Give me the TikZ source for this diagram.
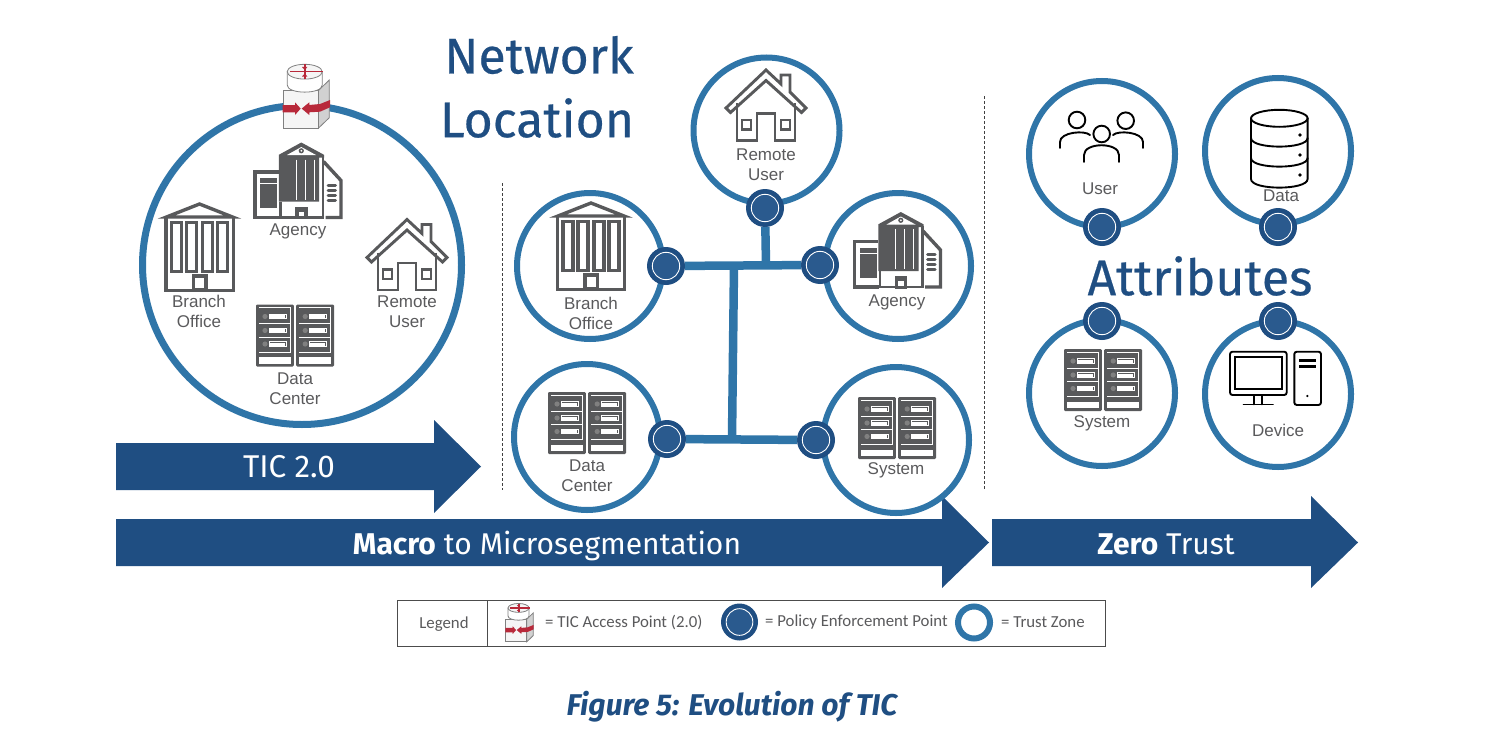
\documentclass[tikz,border=0pt]{standalone}
\usepackage{fontspec}
\setmainfont{Liberation Sans}
\newfontfamily\hdfont[FakeBold=0.45]{Fira Sans}
\newfontfamily\bandfont{Fira Sans}
\newfontfamily\lgfont{Carlito}
\definecolor{ringblue}{HTML}{2F75A8}
\definecolor{navy}{HTML}{1F4E82}
\definecolor{pepfill}{HTML}{2A5A8E}
\definecolor{icongray}{HTML}{58595B}
\definecolor{labelgray}{HTML}{5A5A5C}
\definecolor{ticred}{HTML}{B8293A}
\tikzset{
  zone/.style={circle,draw=ringblue,fill=white,line width=6pt,inner sep=0pt,outer sep=0pt,minimum size=#1},
  pep/.style={circle,fill=navy,inner sep=0pt,outer sep=0pt,minimum size=#1,
    path picture={\draw[white,line width=0.9pt,fill=pepfill] (path picture bounding box.center) circle[radius=0.36*#1];}},
  net/.style={draw=ringblue,line width=8.5pt},
  lbl/.style={font=\fontsize{17}{20}\selectfont,text=labelgray,align=center,inner sep=0pt},
  head/.style={font=\hdfont\fontsize{50}{54}\selectfont,text=navy,inner sep=0pt,align=center},
  bandtext/.style={font=\bandfont\fontsize{30}{32}\selectfont,text=white,inner sep=0pt,anchor=base},
  bigarrow/.style={fill=navy},
  guide/.style={draw=black!75,line width=0.7pt,dash pattern=on 3pt off 2pt},
  leg/.style={font=\lgfont\fontsize{16.8}{20}\selectfont,text=labelgray,inner sep=0pt},
  ig/.style={draw=icongray,line width=3.4pt,line join=miter},
  thinblk/.style={draw=black,line width=1.9pt,line cap=round},
  houseicon/.pic={
    \draw[ig,line width=2.9pt] (-40,3) -- (0,-35) -- (15,-21) -- (15,-30) -- (24,-30) -- (24,-13) -- (40,3) -- (35.5,7.5) -- (0,-24.5) -- (-35.5,7.5) -- cycle;
    \draw[ig,line width=2.9pt] (-29,-2) -- (-29,35.5) -- (-9,35.5) -- (-9,8.5) -- (9,8.5) -- (9,35.5) -- (29,35.5) -- (29,-2);
    \draw[ig,line width=2.9pt] (-24,15) rectangle (-15,24.5);
    \draw[ig,line width=2.9pt] (15,15) rectangle (24,24.5);
  },
  bldgicon/.pic={
    \draw[ig] (0,-43) -- (-33,-30) -- (33,-30) -- cycle;
    \draw[ig] (-33.7,-30) -- (-33.7,43.5) -- (33.7,43.5) -- (33.7,-30);
    \foreach \cx in {-23,-8,8,23}{\draw[ig] (\cx-5,-24.5) rectangle (\cx+5,24.5);}
    \fill[white] (-9,27) rectangle (9,42);
    \draw[ig] (-6,29) rectangle (6.5,43);
  },
  agencyicon/.pic={
    \draw[ig] (-19,37) -- (-43,37) -- (-43,-8.5) -- (-19.3,-8.5);
    \fill[icongray] (-37.7,-2.3) rectangle (-21,27.7);
    \draw[white,line width=1pt] (-37.7,3) -- (-21,3);
    \fill[icongray] (-19.2,-25.7) -- (3.3,-38) -- (26,-25.7) -- (26,-23) -- (21,-23) -- (21,21) -- (-19.2,21) -- cycle;
    \fill[white] (-11,-25.5) -- (3.3,-33.5) -- (18,-25.5) -- cycle;
    \fill[icongray] (3.3,-29.7) circle[radius=2.6];
    \fill[white] (3.3,-29.7) circle[radius=1];
    \draw[ig,line width=2.6pt] (-17.7,21) -- (-17.7,37) -- (25,37) -- (25,-24);
    \draw[white,line width=0.8pt] (-2,-21) -- (-2,19) (7.3,-21) -- (7.3,19) (16.3,-21) -- (16.3,19);
    \fill[icongray] (-3,26) rectangle (9.5,38.5);
    \fill[white] (0.5,31) rectangle (6,35.5);
    \draw[ig] (25.5,-19) -- (43,0) -- (43,37) -- (27.5,37);
    \foreach \yy in {4.5,9.5,14.5,19.5}{\draw[icongray,line width=3pt,line cap=round] (30,\yy) -- (37.5,\yy);}
  },
  rackicon/.pic={
    \foreach \xx in {-39,1.2}{
      \fill[icongray,rounded corners=1.2pt] (\xx,-31) rectangle (\xx+37.8,31);
      \draw[white,line width=0.6pt] (\xx+3,-28) -- (\xx+34.5,-28) -- (\xx+34.5,16.5) -- (\xx+3,16.5);
      \draw[white,line width=0.6pt] (\xx+3,-12.2) -- (\xx+34.5,-12.2) (\xx+3,1.5) -- (\xx+34.5,1.5);
      \fill[white] (\xx+3,21.5) rectangle (\xx+34.8,28.2);
      \foreach \yy in {-19,-5,8.5}{
        \draw[white,line width=0.8pt,fill=icongray] (\xx+13,\yy-2.3) rectangle (\xx+30,\yy+2.3);
        \fill[white] (\xx+14,\yy-1.5) rectangle (\xx+29,\yy+1.5);
        \fill[black!50] (\xx+9,\yy) circle[radius=2.6];
      }
    }
  },
  ticicon/.pic={
    \filldraw[fill=black!18,draw=black!50,line width=0.8pt] (12.3,-5.3) -- (23.3,-16) -- (23.3,21.7) -- (12.3,32.3) -- cycle;
    \filldraw[fill=black!4,draw=black!50,line width=0.8pt] (-22.7,-5.3) rectangle (12.3,32.3);
    \filldraw[fill=white,draw=black!50,line width=0.8pt] (-18.8,-24.3) -- (-18.8,-11) .. controls (-18.8,-1.5) and (16.2,-1.5) .. (16.2,-11) -- (16.2,-24.3) -- cycle;
    \filldraw[fill=black!4,draw=black!50,line width=0.8pt] (-1.3,-24.3) ellipse [x radius=17.5,y radius=7.4];
    \draw[ticred,line width=1.4pt] (-16,-24.3) -- (17,-24.3);
    \draw[ticred,line width=2pt] (-1.3,-31.5) -- (-1.3,-17);
    \fill[ticred] (-4,-29) -- (1.4,-29) -- (-1.3,-26) -- cycle;
    \fill[ticred] (-4,-19.5) -- (1.4,-19.5) -- (-1.3,-22.5) -- cycle;
    \fill[ticred] (-23.3,9) -- (-11,9) -- (-11,6.3) -- (-5.3,12.6) -- (-11,19) -- (-11,16.3) -- (-23.3,16.3) -- cycle;
    \fill[ticred] (-4.3,12.6) -- (3.3,6.3) -- (3.3,9) -- (14,8) -- (24,4) -- (24,11.3) -- (14,15.7) -- (3.3,16.3) -- (3.3,19) -- cycle;
  },
}
\begin{document}
\begin{tikzpicture}[x=1pt,y=-1pt]
\useasboundingbox (0,0) rectangle (1512,752);
\fill[white] (0,0) rectangle (1512,752);

% arrows
\fill[bigarrow] (116,443) -- (434,443) -- (434,420) -- (481,466.5) -- (434,513) -- (434,490) -- (116,490) -- cycle;
\fill[bigarrow] (116,519) -- (942,519) -- (942,496) -- (989,542.5) -- (942,588) -- (942,566) -- (116,566) -- cycle;
\fill[bigarrow] (992,519) -- (1311,519) -- (1311,496) -- (1358,542.5) -- (1311,588) -- (1311,566) -- (992,566) -- cycle;
\node[bandtext,font=\bandfont\fontsize{31.5}{33}\selectfont] (tA) at (289,477.5) {TIC 2.0};
\node[bandtext] (tB) at (547,554) {\textbf{Macro} to Microsegmentation};
\node[bandtext] (tC) at (1166,554) {\textbf{Zero} Trust};

% dashed dividers
\coordinate (g1a) at (502,183); \coordinate (g1b) at (502,490);
\coordinate (g2a) at (984,96);  \coordinate (g2b) at (984,490);
\draw[guide] (g1a) -- (g1b);
\draw[guide] (g2a) -- (g2b);

% headings
\node[head] (hN) at (539,55) {Network};
\node[head] (hL) at (537,118) {Location};
\node[head] (hA) at (1200,276) {Attributes};

% big zone
\node[zone=319pt,line width=7pt] (zBig) at (302,265) {};
\pic at (298,180.5) {agencyicon};
\pic at (199.5,247) {bldgicon};
\pic at (407,254.5) {houseicon};
\pic at (295,335.5) {rackicon};
\pic at (306,96) {ticicon};
\node[lbl] (l1) at (298,231) {Agency};
\node[lbl] (l2) at (199,311) {Branch\\Office};
\node[lbl] (l3) at (407,312) {Remote\\User};
\node[lbl] (l4) at (295,388.5) {Data\\Center};

% middle zones
\node[zone=146pt] (zR) at (766.5,130.5) {};
\node[zone=146pt] (zA) at (898,266) {};
\node[zone=146pt] (zB) at (590,266) {};
\node[zone=146pt] (zD) at (587,437) {};
\node[zone=146pt] (zS) at (896,440) {};
\pic at (766,105) {houseicon};
\pic at (591,246) {bldgicon};
\pic at (897.5,250) {agencyicon};
\pic at (587,423) {rackicon};
\pic at (897,428) {rackicon};
\node[lbl] (m1) at (766,164.5) {Remote\\User};
\node[lbl] (m2) at (591,313) {Branch\\Office};
\node[lbl] (m3) at (897,302) {Agency};
\node[lbl] (m4) at (587,476) {Data\\Center};
\node[lbl] (m5) at (896,470) {System};

% policy enforcement points and network
\node[pep=38pt] (pR) at (765,208) {};
\node[pep=38pt] (pA) at (820,265) {};
\node[pep=38pt] (pB) at (666,266) {};
\node[pep=38pt] (pD) at (667,439) {};
\node[pep=38pt] (pS) at (816,440) {};
\coordinate (jT) at (766,265);
\coordinate (jM) at (734,265);
\coordinate (jB) at (732,439);
\draw[net] (pB) -- (pA);
\draw[net] (pR) -- (jT);
\draw[net] (pD) -- (pS);
\draw[net] (jM) -- (jB);

% right zones
\node[zone=146pt] (zU) at (1102,154) {};
\node[zone=146pt] (zX) at (1278,151) {};
\node[zone=146pt] (zY) at (1102,393) {};
\node[zone=146pt] (zV) at (1278,394) {};
\node[pep=38pt] (pU) at (1102,227) {};
\node[pep=38pt] (pX) at (1278,227) {};
\node[pep=38pt] (pY) at (1102,321) {};
\node[pep=38pt] (pV) at (1278,321) {};
\node[lbl] (r1) at (1100,189) {User};
\node[lbl] (r2) at (1281,196) {Data};
\node[lbl] (r3) at (1102,423) {System};
\node[lbl] (r4) at (1278,430) {Device};
\pic at (1103,380) {rackicon};

% users icon
\begin{scope}[thinblk]
\draw (1077,120) circle[radius=8.3];
\draw (1125.7,120.7) circle[radius=8.3];
\draw (1101.7,134) circle[radius=8.3];
\draw (1060,148) -- (1060,142) .. controls (1060,132) and (1085,130) .. (1090,135);
\draw (1143,148) -- (1143,142) .. controls (1143,132) and (1118,130) .. (1113,135);
\draw (1084,162) -- (1084,155) .. controls (1084,142) and (1119,142) .. (1119,155) -- (1119,162);
\end{scope}

% database icon
\begin{scope}[thinblk]
\draw (1279.3,118.3) ellipse [x radius=28.3,y radius=8.5];
\draw (1251,118.3) -- (1251,179) .. controls (1251,190.5) and (1307.6,190.5) .. (1307.6,179) -- (1307.6,118.3);
\draw (1251,138) .. controls (1251,149.5) and (1307.6,149.5) .. (1307.6,138);
\draw (1251,158) .. controls (1251,169.5) and (1307.6,169.5) .. (1307.6,158);
\fill[black] (1300,135) circle[radius=1.9];
\fill[black] (1300,155) circle[radius=1.9];
\fill[black] (1300,175) circle[radius=1.9];
\end{scope}

% device icon
\begin{scope}[thinblk]
\draw[rounded corners=2.5pt] (1230,351.7) rectangle (1286.7,395);
\draw (1235,357) rectangle (1281.7,389);
\draw (1254.3,395) -- (1254.3,404.3) (1261.7,395) -- (1261.7,404.3);
\draw (1243.5,404.5) -- (1273,404.5);
\draw[rounded corners=2.5pt] (1294.3,351.7) rectangle (1321,405);
\draw[line width=2.6pt,line cap=butt] (1299.3,360.5) -- (1316,360.5) (1299.3,366.2) -- (1316,366.2);
\fill[black] (1307.3,396) circle[radius=1.2];
\end{scope}

% legend
\node[draw=black!70,line width=0.8pt,minimum width=708pt,minimum height=46pt,inner sep=0pt,outer sep=0pt] (lgBox) at (751,623) {};
\coordinate (lgT) at (487,600); \coordinate (lgD) at (487,646);
\draw[draw=black!70,line width=0.8pt] (lgT) -- (lgD);
\node[leg] (lg0) at (444,624) {Legend};
\pic[scale=0.6] at (519.3,622.5) {ticicon};
\node[leg,anchor=west] (lg1) at (545,622.5) {= TIC Access Point (2.0)};
\node[pep=37pt] (lgP) at (739.5,622) {};
\node[leg,anchor=west] (lg2) at (765,622.5) {= Policy Enforcement Point};
\node[zone=32pt] (lgZ) at (974,622.5) {};
\node[leg,anchor=west] (lg3) at (1001,622.5) {= Trust Zone};

% caption
\node[font=\bandfont\bfseries\itshape\fontsize{30}{32}\selectfont,text=navy,inner sep=0pt] (cap) at (732,707) {Figure 5: Evolution of TIC};
\end{tikzpicture}
\end{document}
